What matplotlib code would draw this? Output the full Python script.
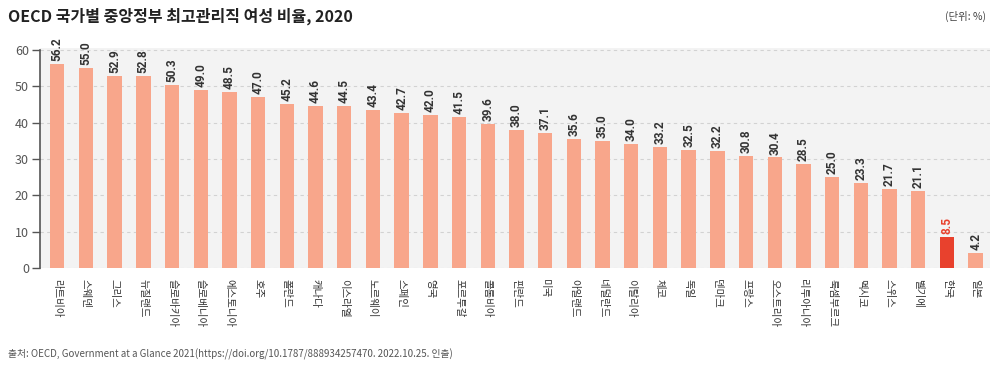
import numpy as np
import matplotlib
matplotlib.use("Agg")
import matplotlib.pyplot as plt

plt.rcParams['font.family'] = ['Noto Sans CJK KR', 'DejaVu Sans']

countries = ['라트비아', '스웨덴', '그리스', '뉴질랜드', '슬로바키아', '슬로베니아', '에스토니아',
             '호주', '폴란드', '캐나다', '이스라엘', '노르웨이', '스페인', '영국', '포르투갈',
             '콜롬비아', '핀란드', '미국', '아일랜드', '네덜란드', '이탈리아', '체코', '독일',
             '덴마크', '프랑스', '오스트리아', '리투아니아', '룩셈부르크', '멕시코', '스위스',
             '벨기에', '한국', '일본']
values = [56.2, 55.0, 52.9, 52.8, 50.3, 49.0, 48.5, 47.0, 45.2, 44.6, 44.5, 43.4, 42.7,
          42.0, 41.5, 39.6, 38.0, 37.1, 35.6, 35.0, 34.0, 33.2, 32.5, 32.2, 30.8, 30.4,
          28.5, 25.0, 23.3, 21.7, 21.1, 8.5, 4.2]
highlight = '한국'
yticks = [0, 10, 20, 30, 40, 50, 60]

base_color = '#f8a68b'
hl_color = '#e8412d'
text_color = '#333333'

fig = plt.figure(figsize=(10.01, 3.69), dpi=100)
ax = fig.add_axes([0.040, 0.2737, 0.949, 0.5963])
ax.set_facecolor('#f3f3f3')

x = np.arange(len(countries))
colors = [hl_color if c == highlight else base_color for c in countries]
ax.bar(x, values, width=0.5, color=colors, zorder=3)

for xi, v, c in zip(x, values, countries):
    ax.text(xi, v + 0.8, f'{v:.1f}', rotation=90, ha='center', va='bottom',
            fontsize=8.5, fontweight='bold', family='Roboto',
            color=hl_color if c == highlight else text_color, clip_on=False, zorder=4)

ax.set_xlim(-0.6, len(countries) - 0.5)
ax.set_ylim(0, 60.5)
ax.set_yticks(yticks)
ax.set_yticklabels([str(t) for t in yticks], fontsize=9, color='#555555')
ax.set_xticks(x)
ax.set_xticklabels(countries, rotation=-90, fontsize=7.5, color=text_color, va='top')
ax.tick_params(axis='x', length=0, pad=8)
ax.tick_params(axis='y', length=6, width=1, color='#555555', pad=2)

ax.grid(axis='y', linestyle=(0, (3, 3)), color='#d2d2d2', linewidth=0.8, zorder=0)
for side in ['top', 'right', 'bottom']:
    ax.spines[side].set_visible(False)
ax.spines['left'].set_bounds(0, 60)
ax.spines['left'].set_color('#555555')
ax.spines['left'].set_linewidth(1.2)

fig.text(0.008, 0.955, 'OECD 국가별 중앙정부 최고관리직 여성 비율, 2020', fontsize=11.5,
         fontweight='bold', color='#222222', va='center', ha='left')
fig.text(0.985, 0.955, '(단위: %)', fontsize=7.5, color='#444444', va='center', ha='right')
fig.text(0.008, 0.04,
         '출처: OECD, Government at a Glance 2021(https://doi.org/10.1787/888934257470. 2022.10.25. 인출)',
         fontsize=7, color='#555555', va='center', ha='left')

fig.savefig('out.png', dpi=100)
